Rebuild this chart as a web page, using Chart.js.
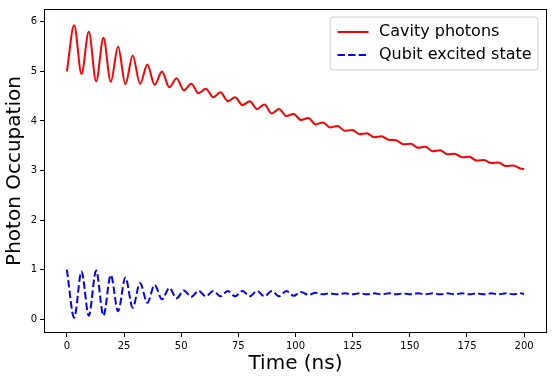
<!DOCTYPE html>
<html><head><meta charset="utf-8">
<script src="https://cdn.jsdelivr.net/npm/chart.js@4/dist/chart.umd.min.js"></script>
<style>html,body{margin:0;padding:0;background:#fff}#wrap{width:552px;height:380px;position:relative}</style>
</head><body><div id="wrap"><canvas id="c" width="552" height="380"></canvas></div>
<script>
const time = [0, 3.2, 6.4, 9.6, 12.8, 16, 19.2, 22.4, 25.6, 28.8, 32, 35.2, 38.4, 41.6, 44.8, 48, 51.2, 54.4, 57.6, 60.8,
  64, 67.2, 70.4, 73.6, 76.8, 80, 83.2, 86.4, 89.6, 92.8, 96, 99.2, 102.4, 105.6, 108.8, 112, 115.2, 118.4, 121.6, 124.8,
  128, 131.2, 134.4, 137.6, 140.8, 144, 147.2, 150.4, 153.6, 156.8, 160, 163.2, 166.4, 169.6, 172.8, 176, 179.2, 182.4,
  185.6, 188.8, 192, 195.2, 198.4, 200];
const cavityPhotons = [5.00, 5.93, 4.95, 5.80, 4.80, 5.68, 4.79, 5.50, 4.74, 5.32, 4.75, 5.14, 4.73, 5.00, 4.68, 4.86, 4.62, 4.75, 4.56, 4.65,
  4.48, 4.58, 4.40, 4.48, 4.32, 4.40, 4.24, 4.33, 4.15, 4.24, 4.10, 4.14, 4.02, 4.06, 3.93, 3.97, 3.87, 3.90, 3.80, 3.82,
  3.73, 3.75, 3.67, 3.69, 3.62, 3.61, 3.53, 3.54, 3.46, 3.48, 3.39, 3.41, 3.33, 3.34, 3.27, 3.28, 3.20, 3.21,
  3.15, 3.16, 3.09, 3.10, 3.04, 3.03];
const qubitExcited = [1.00, 0.03, 0.96, 0.07, 0.98, 0.07, 0.89, 0.16, 0.84, 0.23, 0.73, 0.33, 0.69, 0.40, 0.63, 0.42, 0.58, 0.45, 0.57, 0.46,
  0.57, 0.46, 0.57, 0.46, 0.57, 0.46, 0.57, 0.46, 0.57, 0.46, 0.57, 0.47, 0.55, 0.49, 0.53, 0.50, 0.52, 0.50, 0.52, 0.50,
  0.52, 0.50, 0.52, 0.50, 0.52, 0.50, 0.52, 0.50, 0.52, 0.50, 0.52, 0.50, 0.52, 0.50, 0.52, 0.50, 0.52, 0.50,
  0.52, 0.50, 0.52, 0.50, 0.52, 0.51];
const xTicks = [0, 25, 50, 75, 100, 125, 150, 175, 200];
const yTicks = [0, 1, 2, 3, 4, 5, 6];
const seriesLabels = ['Cavity photons', 'Qubit excited state'];
const xTitle = 'Time (ns)';
const yTitle = 'Photon Occupation';

const FONT = 'DejaVu Sans';

const framePlugin = {
  id: 'frame',
  afterDatasetsDraw(chart) {
    const a = chart.chartArea, ctx = chart.ctx;
    ctx.save();
    ctx.strokeStyle = '#000';
    ctx.lineWidth = 1;
    ctx.strokeRect(a.left + 0.5, a.top + 0.5, a.right - a.left - 1, a.bottom - a.top - 1);
    ctx.restore();
  }
};

const legendPlugin = {
  id: 'mplLegend',
  afterDraw(chart) {
    const ctx = chart.ctx, a = chart.chartArea;
    const ds = chart.data.datasets;
    ctx.save();
    ctx.font = '16px "' + FONT + '"';
    const pad = 6.4, hl = 31, htp = 10.5;
    const tw = Math.max(...ds.map(d => ctx.measureText(d.label).width));
    const w = pad + hl + htp + tw + pad + 1;
    const right = a.right - 9, top = a.top + 8;
    const left = right - w, h = 53;
    const r = 3;
    ctx.beginPath();
    ctx.moveTo(left + r, top);
    ctx.lineTo(right - r, top); ctx.quadraticCurveTo(right, top, right, top + r);
    ctx.lineTo(right, top + h - r); ctx.quadraticCurveTo(right, top + h, right - r, top + h);
    ctx.lineTo(left + r, top + h); ctx.quadraticCurveTo(left, top + h, left, top + h - r);
    ctx.lineTo(left, top + r); ctx.quadraticCurveTo(left, top, left + r, top);
    ctx.closePath();
    ctx.fillStyle = 'rgba(255,255,255,0.8)';
    ctx.fill();
    ctx.strokeStyle = '#cccccc';
    ctx.lineWidth = 1;
    ctx.stroke();
    const rows = [top + 15, top + 38];
    ds.forEach((d, i) => {
      const y = rows[i];
      ctx.beginPath();
      ctx.strokeStyle = d.borderColor;
      ctx.lineWidth = d.borderWidth;
      ctx.setLineDash(d.borderDash || []);
      ctx.moveTo(left + pad + 1, y);
      ctx.lineTo(left + pad + 1 + hl, y);
      ctx.stroke();
      ctx.setLineDash([]);
      ctx.fillStyle = '#000';
      ctx.textBaseline = 'middle';
      ctx.textAlign = 'left';
      ctx.fillText(d.label, left + pad + 1 + hl + htp, y - 0.5);
    });
    ctx.restore();
  }
};

const axisCommon = {
  grid: { drawOnChartArea: false, tickLength: 4, color: '#000', tickColor: '#000', lineWidth: 1 },
  border: { display: false },
  ticks: { color: '#000', font: { family: FONT, size: 10 }, padding: 3, maxRotation: 0, autoSkip: false }
};

new Chart(document.getElementById('c'), {
  type: 'line',
  data: {
    datasets: [
      { label: seriesLabels[0], data: time.map((t, i) => ({ x: t, y: cavityPhotons[i] })),
        borderColor: '#ff0000', borderWidth: 2, pointRadius: 0, fill: false, cubicInterpolationMode: 'monotone' },
      { label: seriesLabels[1], data: time.map((t, i) => ({ x: t, y: qubitExcited[i] })),
        borderColor: '#0000ff', borderWidth: 2, borderDash: [7.4, 3.2], pointRadius: 0, fill: false, cubicInterpolationMode: 'monotone' }
    ]
  },
  options: {
    responsive: false, animation: false, devicePixelRatio: 1,
    layout: { padding: { top: 5, right: 5, left: 0, bottom: 0 } },
    plugins: { legend: { display: false }, tooltip: { enabled: false } },
    scales: {
      x: Object.assign({}, axisCommon, {
        type: 'linear', min: -10, max: 210,
        afterBuildTicks: s => { s.ticks = xTicks.map(v => ({ value: v })); },
        afterFit: s => { s.height = 47; },
        title: { display: true, text: xTitle, color: '#000', font: { family: FONT, size: 20 }, padding: { top: 0, bottom: 4 } }
      }),
      y: Object.assign({}, axisCommon, {
        type: 'linear', min: -0.28, max: 6.26,
        afterBuildTicks: s => { s.ticks = yTicks.map(v => ({ value: v })); },
        afterFit: s => { s.width = 44; },
        title: { display: true, text: yTitle, color: '#000', font: { family: FONT, size: 20 }, padding: { top: 3, bottom: 0 } }
      })
    }
  },
  plugins: [framePlugin, legendPlugin]
});
</script>
</body></html>
